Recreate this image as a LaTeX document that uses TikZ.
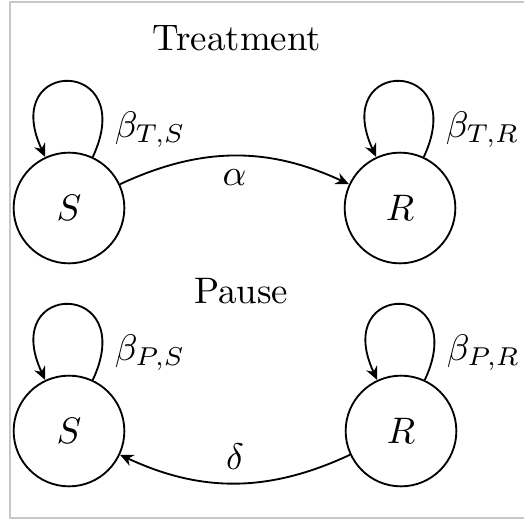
\documentclass[tikz,border=0pt]{standalone}
\usetikzlibrary{arrows.meta}
\begin{document}
\begin{tikzpicture}[x=0.271pt,y=-0.271pt,line width=0.5pt,
  state/.style={circle,draw,minimum size=30pt,inner sep=0pt},
  trans/.style={-{Stealth[length=3.6pt,width=3.2pt]}},
  selfloop/.style={trans,out=65,in=115,distance=30pt},
  frame/.style={draw=black!22,line width=0.5pt}]
\useasboundingbox (0,0) rectangle (524,521);
\draw[frame] (526,2) -- (10,2) -- (10,518) -- (526,518);
\node (T) at (237,38) {Treatment};
\node (P) at (241,291) {Pause};
\node[state] (S1) at (69,208) {$S$};
\node[state] (R1) at (400,208) {$R$};
\node[state] (S2) at (69,431) {$S$};
\node[state] (R2) at (401,431) {$R$};
\draw[selfloop] (S1) to node[pos=0.1,right] {$\beta_{T,S}$} (S1);
\draw[selfloop] (R1) to node[pos=0.1,right] {$\beta_{T,R}$} (R1);
\draw[selfloop] (S2) to node[pos=0.1,right] {$\beta_{P,S}$} (S2);
\draw[selfloop] (R2) to node[pos=0.1,right] {$\beta_{P,R}$} (R2);
\draw[trans] (S1) to[bend left=25] node[midway,below] {$\alpha$} (R1);
\draw[trans] (R2) to[bend left=25] node[midway,above] {$\delta$} (S2);
\end{tikzpicture}
\end{document}
